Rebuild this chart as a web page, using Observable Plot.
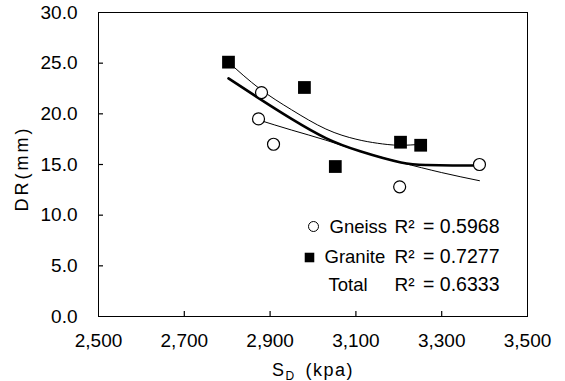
<!DOCTYPE html>
<html>
<head>
<meta charset="utf-8">
<script src="https://cdn.jsdelivr.net/npm/d3@7"></script>
<script src="https://cdn.jsdelivr.net/npm/@observablehq/plot@0.6"></script>
<style>
  body { margin: 0; background: #fff; }
  svg { font-family: "Liberation Sans", Arial, Helvetica, sans-serif; }
</style>
</head>
<body>
<div id="chart"></div>
<script>
// Measured points
const gneissX = [2880, 2873, 2908, 3202, 3388];
const gneissY = [22.1, 19.5, 17.0, 12.8, 15.0];
const graniteX = [2803, 2980, 3052, 3204, 3251];
const graniteY = [25.1, 22.6, 14.8, 17.2, 16.9];

// Trend lines
const gneissTrendX = [2873, 2950, 3030, 3110, 3205, 3300, 3388];
const gneissTrendY = [19.4, 18.4, 17.4, 16.3, 15.2, 14.2, 13.4];
const graniteTrendX = [2803, 2875, 2950, 3030, 3100, 3150, 3200, 3253];
const graniteTrendY = [25.1, 22.5, 20.4, 18.5, 17.5, 17.1, 16.9, 17.0];
const totalTrendX = [2803, 2875, 2950, 3030, 3110, 3205, 3265, 3325, 3388];
const totalTrendY = [23.5, 21.5, 19.5, 17.6, 16.3, 15.2, 14.95, 14.9, 14.9];

// Axes
const xTicks = [2500, 2700, 2900, 3100, 3300, 3500];
const yTicks = [0, 5, 10, 15, 20, 25, 30];
const xLabel = "SD (kpa)";
const yLabel = "DR(mm)";

// Legend
const legendNames = ["Gneiss", "Granite", "Total"];
const legendR2 = ["0.5968", "0.7277", "0.6333"];

const toRows = (xs, ys) => xs.map((x, i) => ({x, y: ys[i]}));
const gneiss = toRows(gneissX, gneissY);
const granite = toRows(graniteX, graniteY);
const gneissTrend = toRows(gneissTrendX, gneissTrendY);
const graniteTrend = toRows(graniteTrendX, graniteTrendY);
const totalTrend = toRows(totalTrendX, totalTrendY);

const legendNameDx = [231, 226, 230];
const legendDy = [220, 250, 278];
const legendMarks = [];
legendNames.forEach((name, i) => {
  legendMarks.push(Plot.text([name], {text: d => d, frameAnchor: "top-left", dx: legendNameDx[i], dy: legendDy[i], textAnchor: "start", lineAnchor: "bottom", fontSize: 18.5, fill: "#000"}));
  legendMarks.push(Plot.text(["R\u00b2"], {text: d => d, frameAnchor: "top-left", dx: 296, dy: legendDy[i], textAnchor: "start", lineAnchor: "bottom", fontSize: 19, fill: "#000"}));
  legendMarks.push(Plot.text([legendR2[i]], {text: d => "= " + d, frameAnchor: "top-left", dx: 401, dy: legendDy[i], textAnchor: "end", lineAnchor: "bottom", fontSize: 19.5, fill: "#000"}));
});

const plot = Plot.plot({
  width: 565,
  height: 381,
  marginLeft: 98,
  marginRight: 38,
  marginTop: 12,
  marginBottom: 65,
  style: {background: "#fff", color: "#000", fontSize: "19px", fontFamily: "'Liberation Sans', Arial, sans-serif"},
  x: {domain: [2500, 3500]},
  y: {domain: [0, 30]},
  marks: [
    Plot.frame({stroke: "#000", strokeWidth: 1}),
    Plot.tickX(xTicks.slice(1, -1), {x: d => d, insetTop: 299, stroke: "#000", strokeWidth: 1.2}),
    Plot.tickY(yTicks.slice(1, -1), {y: d => d, insetRight: 424, stroke: "#000", strokeWidth: 1.2}),
    Plot.axisX(xTicks, {tickSize: 0, tickPadding: 17, tickFormat: d3.format(","), label: null, fontSize: 19}),
    Plot.axisY(yTicks, {tickSize: 0, tickPadding: 21, tickFormat: d3.format(".1f"), label: null, fontSize: 19}),
    Plot.line(graniteTrend, {x: "x", y: "y", curve: "natural", stroke: "#000", strokeWidth: 1}),
    Plot.line(gneissTrend, {x: "x", y: "y", curve: "natural", stroke: "#000", strokeWidth: 1}),
    Plot.line(totalTrend, {x: "x", y: "y", curve: "natural", stroke: "#000", strokeWidth: 2.6}),
    Plot.dot(gneiss, {x: "x", y: "y", r: 6, stroke: "#000", fill: "#fff", strokeWidth: 1.2}),
    Plot.dot(granite, {x: "x", y: "y", r: 7.2, symbol: "square", fill: "#000", stroke: "none"}),
    Plot.dot([0], {frameAnchor: "top-left", dx: 215, dy: 214, r: 5, stroke: "#000", fill: "#fff", strokeWidth: 1}),
    Plot.dot([0], {frameAnchor: "top-left", dx: 211, dy: 245, r: 5.4, symbol: "square", fill: "#000", stroke: "none"}),
    ...legendMarks,
    Plot.text([xLabel], {text: d => d, frameAnchor: "bottom", dy: 59, lineAnchor: "bottom", textAnchor: "middle", fontSize: 18, fill: "#000"}),
    Plot.text([yLabel], {text: d => d, frameAnchor: "left", dx: -71, dy: 4, rotate: -90, lineAnchor: "bottom", textAnchor: "middle", fontSize: 18, fill: "#000"})
  ]
});

document.getElementById("chart").appendChild(plot);

// Subscript D in the x label, spacing in the y label
const svg = d3.select(plot);
svg.selectAll("text").filter(function() { return this.textContent === xLabel; }).each(function() {
  const t = d3.select(this);
  t.text(null).style("letter-spacing", "1.5px");
  t.append("tspan").text("S");
  t.append("tspan").attr("font-size", 12).attr("dy", 4).text("D");
  t.append("tspan").attr("dy", -4).attr("dx", 10).text("(kpa)");
});
svg.selectAll("text").filter(function() { return this.textContent === yLabel; }).style("letter-spacing", "3px");
</script>
</body>
</html>
